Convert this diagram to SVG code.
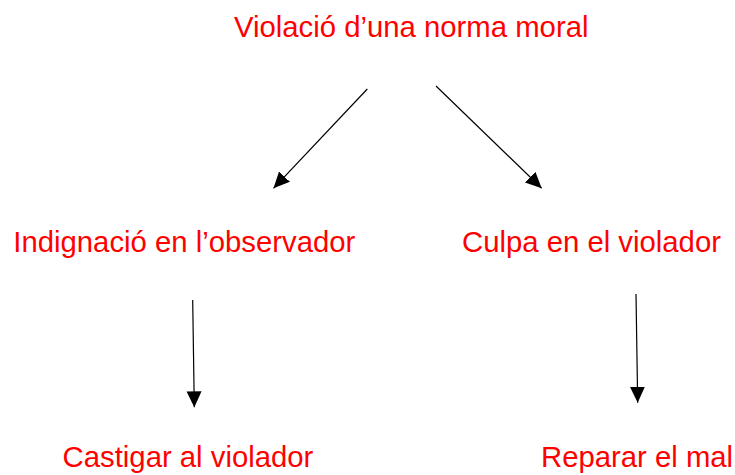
<svg xmlns="http://www.w3.org/2000/svg" width="735" height="475" viewBox="0 0 735 475">
<style>
.t{font-family:"Liberation Sans",Arial,sans-serif;font-size:29.3px;fill:#ff0000}
.c{stroke:#000;stroke-width:1.2;fill:none;marker-end:url(#ah)}
</style>
<defs>
<marker id="ah" markerWidth="16" markerHeight="16" refX="16" refY="7.5" orient="auto" markerUnits="userSpaceOnUse">
<path d="M0,0 L16,7.5 L0,15 Z" fill="#000"/>
</marker>
</defs>
<rect width="735" height="475" fill="#fff"/>
<g id="n1"><text class="t" x="234" y="37.3">Violació d’una norma moral</text></g>
<g id="n2"><text class="t" x="13.3" y="252.3">Indignació en l’observador</text></g>
<g id="n3"><text class="t" x="462" y="252.3">Culpa en el violador</text></g>
<g id="n4"><text class="t" x="62.6" y="467.3">Castigar al violador</text></g>
<g id="n5"><text class="t" x="541" y="467.3">Reparar el mal</text></g>
<g id="connectors">
<line class="c" x1="367.3" y1="89" x2="273.5" y2="188.3"/>
<line class="c" x1="436" y1="86" x2="541.7" y2="188.3"/>
<line class="c" x1="192.7" y1="300" x2="194.3" y2="407.3"/>
<line class="c" x1="636" y1="294" x2="637.7" y2="402.7"/>
</g>
</svg>
